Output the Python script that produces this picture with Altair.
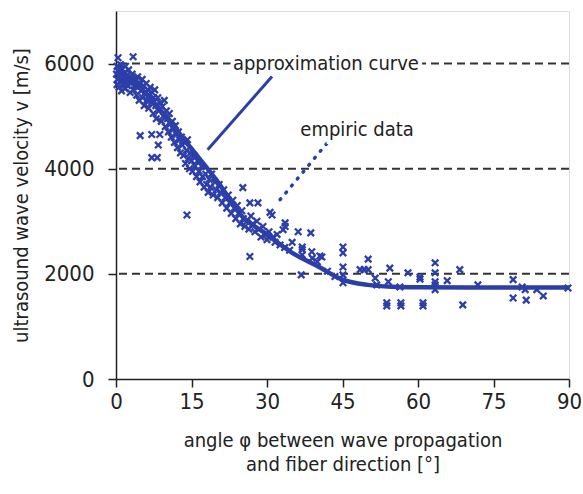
import altair as alt
import pandas as pd

BLUE = "#2c3ea8"
FONT = "DejaVu Sans Condensed"

# empiric data (angle in degrees, velocity in m/s)
pts = [
    (0.2,5950),(0.3,5700),(0.4,6110),(0.5,5850),(0.6,5550),(0.8,5780),(0.9,5980),(1.0,5650),(1.1,5480),
    (1.2,5900),(1.4,5720),(1.5,5600),(1.6,5820),(1.8,5520),(1.9,5950),(2.0,5700),(2.2,5780),(2.3,5580),
    (2.5,5880),(2.6,5660),(2.8,5450),(2.9,5750),(3.0,5620),(3.2,5800),(3.4,6130),(3.5,5500),(3.6,5700),
    (3.8,5580),(4.0,5680),(4.1,5400),(0.1,5800),(0.2,5600),(0.7,5900),(1.3,5750),
    (4.3,5750),(4.5,5560),(4.6,5300),(4.8,5620),(5.0,5480),(5.2,5700),(5.3,5350),(5.5,5580),(5.6,5200),
    (5.8,5450),(6.0,5620),(6.1,5300),(6.3,5500),(6.5,5150),(6.6,5400),(6.8,5550),(7.0,5250),(7.2,5450),
    (7.4,5050),(7.5,5350),(7.7,5500),(7.9,5200),(8.0,4950),
    (4.8,4630),(7.1,4650),(8.7,4650),(7.1,4210),(8.2,4210),(8.4,4450),
    (8.3,5350),(8.5,5100),(8.8,5250),(9.0,4900),(9.2,5180),(9.4,5000),(9.6,5300),(9.8,4800),(10.0,5100),
    (10.2,4950),(10.4,4700),(10.6,5050),(10.8,4850),(11.0,4600),(11.2,4900),(11.4,4750),(11.6,4500),
    (11.8,4820),(12.0,4650),(12.2,4400),(12.4,4700),(12.6,4550),(12.8,4300),(13.0,4600),
    (13.2,4450),(13.4,4250),(13.6,4500),(13.8,4100),(14.0,4350),(14.2,4550),(14.4,4200),(14.6,4000),
    (14.8,4300),(15.0,4150),(15.2,3950),(15.5,4250),(15.7,4050),(16.0,3850),(16.2,4150),(16.5,3950),
    (16.7,3750),(17.0,4050),(17.2,3850),(17.5,3650),(17.8,3900),(18.0,3700),(18.3,3550),(18.5,3800),
    (18.8,3650),(19.0,3900),(19.3,3500),(19.6,3750),(19.9,3600),(14.1,3120),
    (20.2,3450),(20.5,3700),(20.8,3550),(21.1,3350),(21.4,3600),(21.7,3450),(22.0,3250),(22.3,3500),
    (22.6,3350),(22.9,3150),(23.2,3400),(23.5,3250),(23.8,3050),(24.1,3300),(24.4,3150),(24.7,2950),
    (25.0,3200),(25.3,3050),(25.6,2900),(25.2,3640),(26.6,3350),(28.2,3350),(26.6,2330),(26.0,3000),
    (26.4,2850),(26.8,3100),(27.2,2950),(27.6,2800),(28.0,3000),(28.4,2850),(28.8,2700),(29.2,2900),
    (29.6,2750),(30.0,2650),(30.4,2800),(30.6,3170),(31.0,3120),(31.2,2700),(31.6,2600),(32.0,2750),
    (33.6,2970),(33.2,2840),(33.6,2900),(32.6,2550),(33.5,2500),(34.5,2450),(35.0,2600),(36.2,2800),
    (38.7,2780),(37.0,2510),(37.0,2460),(37.0,2360),(36.8,1980),(38.9,2420),(40.0,2230),(40.9,2320),
    (40.5,2340),(39.0,2300),(45.1,2510),(45.1,2400),(45.1,2130),(45.1,1980),(45.1,1830),(42.0,2050),
    (43.5,1950),
    (48.5,2080),(49.3,2080),(50.1,2280),(50.1,2080),(51.5,1920),(51.8,1790),(53.8,1450),(53.8,1390),
    (54.1,1850),(54.4,2110),(56.4,1750),(56.6,1450),(56.6,1390),(58.0,2020),(60.4,1940),(60.4,1900),
    (61.0,1450),(61.0,1390),(63.4,2210),(63.4,2020),(63.4,1850),(63.4,1790),(63.4,1700),(65.8,1870),
    (68.3,2080),(68.9,1410),(71.9,1790),(78.9,1890),(78.9,1540),(80.7,1750),(81.5,1500),(81.3,1700),
    (83.6,1700),(84.9,1580),(89.8,1730),
]
SCATTER_ANGLE = [p[0] for p in pts]
SCATTER_V = [p[1] for p in pts]

# approximation curve
CURVE_ANGLE = [0, 5, 10, 15, 20, 25, 30, 35, 40, 45, 50, 55, 60, 70, 80, 90]
CURVE_V = [5850, 5520, 4980, 4380, 3780, 3100, 2750, 2400, 2150, 1890, 1790, 1755, 1745, 1740, 1740, 1740]

# annotation pointer lines
POINTER1_ANGLE = [18.2, 31.0]
POINTER1_V = [4362, 5752]
POINTER2_ANGLE = [32.6, 42.5]
POINTER2_V = [3410, 4552]

LABELS = ["approximation curve", "empiric data"]
LABEL_ANGLE = [41.7, 47.9]
LABEL_V = [5990, 4743]

X_TICKS = [0, 15, 30, 45, 60, 75, 90]
Y_TICKS = [0, 2000, 4000, 6000]
GRID_V = [2000, 4000, 6000]

scatter_df = pd.DataFrame({"angle": SCATTER_ANGLE, "v": SCATTER_V})
curve_df = pd.DataFrame({"angle": CURVE_ANGLE, "v": CURVE_V})
p1_df = pd.DataFrame({"angle": POINTER1_ANGLE, "v": POINTER1_V})
p2_df = pd.DataFrame({"angle": POINTER2_ANGLE, "v": POINTER2_V})
lab_df = pd.DataFrame({"label": LABELS, "angle": LABEL_ANGLE, "v": LABEL_V})
grid_df = pd.DataFrame({"v": GRID_V})

xscale = alt.Scale(domain=[0, 90], nice=False, zero=False)
yscale = alt.Scale(domain=[0, 7000], nice=False)

xaxis = alt.Axis(values=X_TICKS, title=["angle φ between wave propagation", "and fiber direction [°]"],
                 grid=False, labelFontSize=22, labelFont=FONT, titleFont=FONT, titleFontSize=20,
                 titleFontWeight="normal", labelColor="#222", titleColor="#222", tickSize=8,
                 labelPadding=4, titlePadding=18, domainColor="#222", tickColor="#222",
                 domainWidth=1.5, tickWidth=1.5, titleLineHeight=24, labelFlush=False, format="d")
yaxis = alt.Axis(values=Y_TICKS, title="ultrasound wave velocity v [m/s]", grid=False,
                 labelFontSize=22, labelFont=FONT, titleFont=FONT, titleFontSize=20,
                 titleFontWeight="normal", labelColor="#222", titleColor="#222", tickSize=8,
                 labelPadding=14, titlePadding=12, domainColor="#222", tickColor="#222",
                 domainWidth=1.5, tickWidth=1.5, format="d")

X = alt.X("angle:Q", scale=xscale, axis=xaxis)
Y = alt.Y("v:Q", scale=yscale, axis=yaxis)

grid = alt.Chart(grid_df).mark_rule(color="#333", strokeWidth=2, strokeDash=[8, 5]).encode(
    y=alt.Y("v:Q", scale=yscale))

points = alt.Chart(scatter_df).mark_point(
    shape="M-1,-1L1,1M-1,1L1,-1", filled=False, size=42, strokeWidth=2.3, color=BLUE, opacity=1
).encode(x=X, y=Y)

curve = alt.Chart(curve_df).mark_line(
    color=BLUE, strokeWidth=4.5, interpolate="monotone"
).encode(x=alt.X("angle:Q", scale=xscale), y=alt.Y("v:Q", scale=yscale))

ptr1 = alt.Chart(p1_df).mark_line(color=BLUE, strokeWidth=3).encode(
    x=alt.X("angle:Q", scale=xscale), y=alt.Y("v:Q", scale=yscale))
ptr2 = alt.Chart(p2_df).mark_line(color=BLUE, strokeWidth=3.5, strokeDash=[1, 8], strokeCap="round").encode(
    x=alt.X("angle:Q", scale=xscale), y=alt.Y("v:Q", scale=yscale))

halo = alt.Chart(lab_df).mark_text(
    font=FONT, fontSize=20, stroke="white", strokeWidth=8, color="white", baseline="middle", align="center"
).encode(x=alt.X("angle:Q", scale=xscale), y=alt.Y("v:Q", scale=yscale), text="label:N")
labels = alt.Chart(lab_df).mark_text(
    font=FONT, fontSize=20, color="#222", baseline="middle", align="center"
).encode(x=alt.X("angle:Q", scale=xscale), y=alt.Y("v:Q", scale=yscale), text="label:N")

chart = alt.layer(grid, points, curve, ptr1, ptr2, halo, labels).properties(
    width=453, height=368,
    autosize=alt.AutoSizeParams(type="none"),
    padding={"left": 116, "top": 11, "right": 14, "bottom": 115},
).configure_view(stroke="#222", strokeWidth=1.5).configure(background="white")

chart.save("out.html", embed_options={"renderer": "svg", "actions": False})
